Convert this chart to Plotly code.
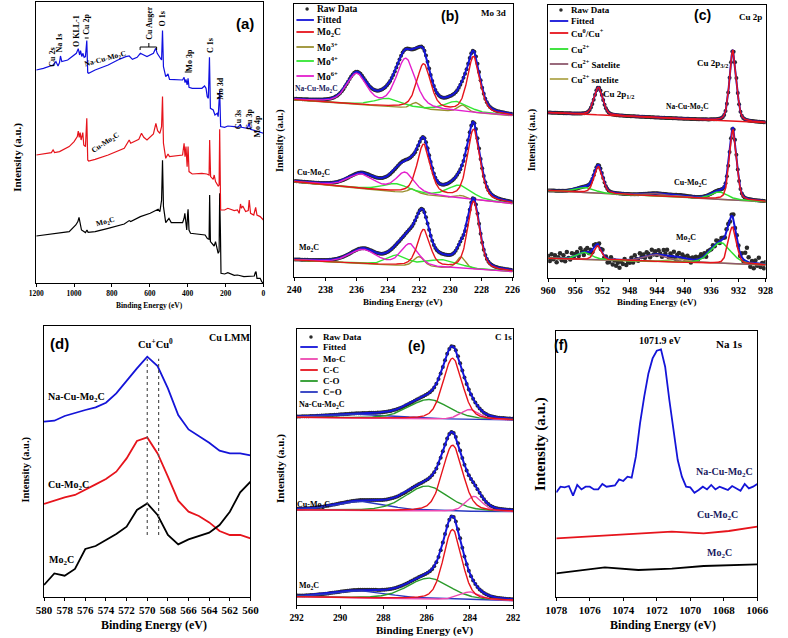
import numpy as np
import plotly.graph_objects as go

W, H = 788, 638
SERIF = "Liberation Serif"
SANS = "Liberation Sans"

# ---------------- (a) survey ----------------
a_mo2c_be = [1200, 1026, 991, 980, 974, 969, 961, 940, 932, 926, 889, 820, 735, 709, 701, 650, 598, 556, 547, 538, 533, 528, 516, 499, 487, 427, 419, 415, 410, 405, 400, 398, 393, 385, 308, 296, 287, 284, 280, 265, 260, 253, 244, 239, 234, 231, 227, 224, 205, 188, 154, 137, 103, 77, 48, 43, 39, 34, 17, 9, 0]
a_mo2c_i = [47.3, 51.7, 58.3, 61.7, 66, 60, 53.3, 50.7, 53.3, 51, 51.7, 55, 59.3, 62.7, 61.7, 66.7, 70, 74, 71.7, 83, 123, 76.7, 60.7, 65, 60.7, 60.7, 65, 70, 56.7, 53.3, 70, 74, 53.3, 50, 48.3, 44.7, 44, 88.3, 41.7, 38.3, 37.3, 41.7, 35, 30, 31.7, 90, 50, 10, 9.3, 10.7, 8, 8.3, 6.7, 6.7, 7.3, 10.7, 11.7, 5, 5, 1.7, 0]
a_cu_be = [1200, 1162, 1120, 1111, 1103, 1077, 1026, 1000, 983, 978, 973, 968, 963, 954, 949, 940, 933, 928, 923, 889, 820, 735, 718, 709, 701, 658, 644, 632, 615, 581, 568, 559, 547, 538, 533, 528, 516, 504, 496, 427, 419, 414, 409, 403, 398, 393, 376, 325, 299, 287, 284, 279, 265, 260, 253, 239, 234, 231, 226, 205, 188, 154, 137, 128, 121, 116, 109, 94, 80, 75, 68, 51, 41, 34, 17, 0]
a_cu_i = [128.3, 129.3, 130.7, 133.3, 130.7, 131.7, 136.7, 141.7, 146.7, 152.3, 146, 150.7, 143.3, 150.7, 138.3, 136.7, 165, 123.3, 122.3, 124, 128.3, 135, 140, 143.3, 140, 144, 150, 146, 143.3, 149.3, 160, 152.7, 150, 156.7, 186.7, 140, 125, 129.3, 126.7, 128.3, 140, 126.7, 136.7, 116.7, 136.7, 111.7, 109.3, 110, 109.3, 108.3, 143.3, 106.7, 104, 108.3, 101.7, 97.3, 98.3, 154, 73.3, 73.3, 75, 72.7, 73.3, 70, 79.3, 75, 77.3, 71.7, 72.7, 83.3, 70, 68.3, 76, 68.3, 66.7, 63.3]
a_na_be = [1200, 1162, 1111, 1096, 1085, 1077, 1072, 1065, 1034, 1000, 988, 978, 971, 966, 959, 954, 947, 940, 933, 928, 923, 889, 820, 769, 727, 709, 692, 667, 650, 632, 615, 581, 569, 561, 547, 538, 533, 528, 516, 504, 496, 427, 419, 414, 409, 403, 398, 393, 376, 325, 311, 303, 297, 291, 285, 280, 265, 256, 244, 239, 231, 226, 205, 188, 154, 137, 121, 116, 85, 75, 68, 41, 34, 0]
a_na_i = [213.3, 215, 218.3, 221.7, 217.3, 220.7, 227.3, 221.7, 223.3, 228.3, 230, 234.7, 228.3, 232.7, 226.7, 230, 226, 226.7, 242.7, 210.7, 210, 213.3, 218.3, 223.3, 226.7, 227.3, 224, 226, 230, 228.3, 226.7, 230, 235, 230, 225, 223.3, 252.7, 216.7, 206.7, 209.3, 204, 203.3, 206, 200.7, 204, 198.3, 205, 196, 195, 195, 197.3, 195, 186.7, 185, 226, 175, 173.3, 168.3, 170, 166.7, 192.7, 156.7, 156, 157.3, 156.7, 156, 158.3, 156, 155, 160, 154, 152.7, 151.7, 150]

# ---------------- (b) Mo 3d : peaks (centre eV, height, FWHM eV); rows = Na-Cu-Mo2C, Cu-Mo2C, Mo2C
b_base_left = [177, 95, 16.7]
b_base_right = [161, 73, 5]
b_mo2c = [[(228.5, 56, 0.95), (231.7, 45, 1.05)], [(228.5, 70, 0.95), (231.7, 50, 1.0)], [(228.5, 68, 0.9), (231.7, 37, 0.95)]]
b_mo3 = [[(232.2, 6, 0.7), (229.2, 7, 0.7)], [(232.4, 5, 0.7), (229.3, 3, 0.7)], [(232.0, 10, 0.8), (229.3, 12, 0.7)]]
b_mo4 = [[(234.0, 8, 2.0), (229.6, 10, 1.8)], [(233.5, 8, 2.0), (229.4, 13, 1.8)], [(233.4, 10, 1.5), (230.5, 8, 2.5)]]
b_mo6 = [[(232.85, 49, 1.45), (236.0, 30, 1.5)], [(232.9, 20, 1.4), (235.7, 14, 2.0)], [(232.6, 22, 1.3), (235.6, 14, 2.0)]]

# ---------------- (c) Cu 2p
c_base_left = [165.7, 87.7, 20]
c_base_right = [155.7, 76.7, 13.3]
c_cu0 = [[(932.8, 71, 1.2), (952.6, 27.6, 1.5)], [(932.8, 70, 1.25), (952.6, 26.5, 1.5)], [(932.9, 37, 1.4), (952.7, 14, 1.3)]]
c_cu2 = [[], [(934.8, 7.4, 2.8), (954.5, 5, 3.0)], [(934.6, 21, 3.5), (954.6, 7, 2.5)]]
c_sat1 = [[], [(944.0, 2.5, 4.0)], [(944.0, 7, 4.0)]]
c_sat2 = [[], [(940.5, 1.5, 3.0)], [(940.5, 3.5, 3.0)]]
c_mo2c_noise = [2, -3, 4, -1, 3, -4, 1, 5, -2, 3, -3, 6, 0, -2, 4, -1, 2,
                3, -2, 5, 1, -3, 2, 4, -1, 2, -2, 3, 1, -1, 2, 0, 3,
                -2, 1, -4, -3, 2, -5, -1, -6, -3, -8, -2, -4, 1, -5, -2, -3,
                2, -3, 4, 0, -2, 5, 1, 3, -1, 4, 2, -2, 5, 0, 3, -1,
                4, 1, -2, 5, 2, 6, -1, 3, 0, 5, -2, 2, 4, -1, 3, 1,
                -2, 3, 1, -3, 2, 0, 3, -1, 2, 4, 1, 3, -2, 2, 1, 0,
                2, -1, 3, 1, -2, 2, 1, -1, 3, 2, -2, 1, 4, -1, 2, 1,
                -3, 4, -2, 8, 14, 5, -4, 2, -5, 3, -2, 6, -3, 1, -4, 2]

# ---------------- (d) Cu LMM
d_be = [580, 579, 578, 577, 576, 575, 574, 573, 572, 571, 570, 569, 568, 567, 566, 565, 564, 563, 562, 561, 560]
d_na = [175, 176, 180.7, 184, 186.7, 189.3, 194, 203.3, 216, 228.3, 240, 230.7, 208.3, 181.7, 167.3, 160.7, 154, 146, 143.3, 143.3, 141.3]
d_cu = [92.7, 96, 99.3, 101.7, 106.7, 112.3, 117.7, 125, 138.3, 155.7, 159.3, 143.3, 120, 96, 85, 80.7, 74.3, 65.7, 61.7, 61.7, 58.3]
d_mo = [11.7, 23.3, 21, 27.7, 47.7, 50.7, 56.7, 62.7, 70, 86.7, 93.3, 81.7, 61.7, 52.3, 57.3, 60.7, 64, 71.7, 85, 104.3, 115]
d_marks = [570.0, 568.9]

# ---------------- (e) C 1s
e_base_left = [187.7, 95, 8.3]
e_base_right = [185, 93.3, 4.3]
e_moc = [[(284.0, 10, 1.0)], [(283.8, 15, 0.9)], [(284.0, 8, 1.1)]]
e_cc = [[(284.8, 61, 1.05)], [(284.8, 66, 1.1)], [(284.8, 70, 1.0)]]
e_co = [[(285.9, 19.5, 2.2)], [(286.0, 25, 2.3)], [(285.9, 21, 2.3)]]
e_ceo = [[(288.8, 4, 3.5)], [(289.0, 9, 2.8)], [(289.0, 7, 3.0)]]

# ---------------- (f) Na 1s
f_na_be = [1078 - 0.25 * k for k in range(49)]
f_na = [104.3, 110, 109.3, 110.7, 101, 111.7, 107.3, 110, 110, 107.3, 107.3, 112.7, 110, 110.7, 111.3, 117.3, 115.7, 120, 119, 140, 173.3, 200, 223.3, 238.3, 246, 247.3, 230, 196.7, 168.3, 136.7, 120, 110, 109.3, 104, 106.7, 110, 107.3, 111.7, 107.3, 110, 108.3, 106.7, 110.7, 108.3, 106, 112.7, 108.3, 110, 112.7]
f_cu_be = [1078, 1075.4, 1073.5, 1071.1, 1069.2, 1067.7, 1066]
f_cu = [58.3, 60.7, 62.3, 65, 63.3, 65.7, 70]
f_mo_be = [1078, 1075.1, 1073.1, 1071.1, 1069.2, 1066]
f_mo = [23.3, 29.3, 26.7, 28, 30.7, 32.3]

# ---------------- layout geometry ----------------
BOX = {'a': (26, 2, 260, 283.3), 'b': (291.7, 4, 516.7, 276.7), 'c': (553.3, 5, 777.3, 278.3),
       'd': (34, 326, 246.7, 596.7), 'e': (294.3, 329, 517.3, 605), 'f': (561.7, 331, 768.7, 596.7)}
XR = {'a': [1200, 0], 'b': [240, 226], 'c': [960, 928], 'd': [580, 560], 'e': [292, 282], 'f': [1078, 1066]}
YR = {'a': [0, 281.3], 'b': [0, 272.7], 'c': [0, 273.3], 'd': [0, 270.7], 'e': [0, 276], 'f': [0, 265.7]}
DT = {'a': 200, 'b': 2, 'c': 4, 'd': 2, 'e': 2, 'f': 2}
TF = {'a': 7.5, 'b': 10, 'c': 10, 'd': 11, 'e': 9.5, 'f': 11}
AX = {k: ('' if i == 0 else str(i + 1)) for i, k in enumerate('abcdef')}

fig = go.Figure()
layout = dict(width=W, height=H, margin=dict(l=0, r=0, t=0, b=0), paper_bgcolor='white',
              plot_bgcolor='white', showlegend=False)
for k in 'abcdef':
    n = AX[k]
    x0, y0, x1, y1 = BOX[k]
    layout['xaxis' + n] = dict(domain=[x0 / W, x1 / W], range=XR[k], anchor='y' + n, dtick=DT[k], tick0=0,
                               showline=True, mirror=True, linecolor='black', linewidth=1.2, ticks='outside',
                               ticklen=3, tickwidth=1, tickcolor='black', showgrid=False, zeroline=False,
                               tickfont=dict(family=SERIF, size=TF[k], color='black', weight='bold'))
    layout['yaxis' + n] = dict(domain=[1 - y1 / H, 1 - y0 / H], range=YR[k], anchor='x' + n, showline=True,
                               mirror=True, linecolor='black', linewidth=1.2, showticklabels=False, ticks='',
                               showgrid=False, zeroline=False)
fig.update_layout(**layout)

annotations = []
shapes = []


def P(x, y):
    return x / W, 1 - y / H


def text(x, y, s, size, font=SERIF, color='black', angle=0, xanchor='center', bold=True):
    px_, py_ = P(x, y)
    annotations.append(dict(x=px_, y=py_, xref='paper', yref='paper', text=s, showarrow=False,
                            textangle=angle, xanchor=xanchor, yanchor='middle',
                            font=dict(family=font, size=size, color=color, weight='bold' if bold else 'normal')))


def pline(x0, y0, x1, y1, color='black', width=1, dash=None):
    a0, b0 = P(x0, y0)
    a1, b1 = P(x1, y1)
    ln = dict(color=color, width=width)
    if dash:
        ln['dash'] = dash
    shapes.append(dict(type='line', xref='paper', yref='paper', x0=a0, y0=b0, x1=a1, y1=b1, line=ln))


def add(k, x, y, color, width=1.5, mode='lines', size=4):
    n = AX[k]
    if mode == 'lines':
        fig.add_trace(go.Scatter(x=x, y=y, mode='lines', line=dict(color=color, width=width),
                                 xaxis='x' + n, yaxis='y' + n, hoverinfo='skip'))
    else:
        fig.add_trace(go.Scatter(x=x, y=y, mode='markers', marker=dict(color=color, size=size, line=dict(width=0)),
                                 xaxis='x' + n, yaxis='y' + n, hoverinfo='skip'))


def pv(x, peaks, eta=0.3):
    out = np.zeros_like(x)
    for c, h, w in peaks:
        d = (x - c) / w
        out += h * ((1 - eta) * np.exp(-4 * np.log(2) * d * d) + eta / (1 + 4 * d * d))
    return out


def base(x, xr, bl, br):
    return bl + (br - bl) * (x - xr[0]) / (xr[1] - xr[0])


BLUE = '#1414d8'
RED = '#e6141c'
RAW = '#2a2a2a'

# ---- (a)
add('a', a_mo2c_be, a_mo2c_i, 'black', 1.2)
add('a', a_cu_be, a_cu_i, RED, 1.2)
add('a', a_na_be, a_na_i, '#1010e0', 1.2)
for (x, y, s) in [(43, 57, 'Cu 2s'), (50, 43, 'Na 1s'), (68, 31, 'O KLL-1'), (78, 24, 'Cu 2p'),
                  (142, 23, 'Cu Auger'), (157, 19, 'O 1s'), (183, 60, 'Mo 3p'), (205, 46, 'C 1s'),
                  (215, 88, 'Mo 3d'), (235, 120, 'Cu 3s'), (245, 119, 'Cu 3p'), (253, 126, 'Mo 4p')]:
    text(x, y, s, 8, angle=-90)
pline(133, 47, 150, 47)
pline(133, 47, 133, 50)
pline(150, 47, 150, 50)
pline(142, 47, 142, 43)
pline(179, 72, 186, 72)
pline(76, 38, 80, 38)
text(97, 59, 'Na-Cu-Mo<sub>2</sub>C', 7.5, angle=-15)
text(97, 143, 'Cu-Mo<sub>2</sub>C', 7.5, angle=-33)
text(97, 222, 'Mo<sub>2</sub>C', 7.5, angle=-15)
text(241, 23, '(a)', 15, font=SANS)
text(143, 305, 'Binding Energy (eV)', 7.5)
text(6, 157, 'Intensity (a.u.)', 11, angle=-90)

# ---- (b)
xb = np.linspace(226, 240, 701)
xb_raw = np.arange(226.05, 240, 0.1)
ETA_B = 0.45
for i in range(3):
    bl, br = b_base_left[i], b_base_right[i]
    allp = b_mo2c[i] + b_mo3[i] + b_mo4[i] + b_mo6[i]
    env = base(xb, [240, 226], bl, br) + pv(xb, allp, ETA_B)
    raw = base(xb_raw, [240, 226], bl, br) + pv(xb_raw, allp, ETA_B)
    add('b', xb_raw, raw, RAW, mode='markers', size=4)
    add('b', xb, env, BLUE, 2)
    for comp, col in [(b_mo3, '#9a9030'), (b_mo4, '#33e633'), (b_mo6, '#e31fcc'), (b_mo2c, RED)]:
        add('b', xb, base(xb, [240, 226], bl, br) + pv(xb, comp[i], ETA_B), col, 1.4)
text(315, 89, 'Na-Cu-Mo<sub>2</sub>C', 7.5, color='#1a1a60')
text(312, 173, 'Cu-Mo<sub>2</sub>C', 8)
text(307, 248, 'Mo<sub>2</sub>C', 8)
text(452, 16, '(b)', 14, font=SANS)
text(497, 13, 'Mo 3d', 9)
text(404, 302, 'Binding Energy (eV)', 9)
text(277, 140, 'Intensity (a.u.)', 10, angle=-90)

# ---- (c)
xc = np.linspace(928, 960, 801)
xc_raw = np.arange(928.1, 960, 0.2)
for i in range(3):
    bl, br = c_base_left[i], c_base_right[i]
    allp = c_cu0[i] + c_cu2[i] + c_sat1[i] + c_sat2[i]
    env = base(xc, [960, 928], bl, br) + pv(xc, allp)
    if i < 2:
        raw = base(xc_raw, [960, 928], bl, br) + pv(xc_raw, allp)
        add('c', xc_raw, raw, RAW, mode='markers', size=4)
    else:
        xr = np.array([960 - 0.25 * k for k in range(129)])
        raw = base(xr, [960, 928], bl, br) + pv(xr, allp) + np.array(c_mo2c_noise)
        add('c', xr, raw, RAW, mode='markers', size=4.5)
    add('c', xc, env, BLUE, 2)
    for comp, col in [(c_sat2, '#b0a850'), (c_sat1, '#8e5a6e'), (c_cu2, '#2ee02e'), (c_cu0, RED)]:
        if comp[i]:
            add('c', xc, base(xc, [960, 928], bl, br) + pv(xc, comp[i]), col, 1.5)
    if i == 0:
        add('c', xc, base(xc, [960, 928], bl, br), RED, 1.5)
text(712, 15, '(c)', 14, font=SANS)
text(762, 17, 'Cu 2p', 9)
text(723, 63, 'Cu 2p<sub>3/2</sub>', 9)
text(626, 95, 'Cu 2p<sub>1/2</sub>', 9)
text(697, 107, 'Na-Cu-Mo<sub>2</sub>C', 7.5)
text(700, 183, 'Cu-Mo<sub>2</sub>C', 8)
text(695, 238, 'Mo<sub>2</sub>C', 8)
text(665, 302, 'Binding Energy (eV)', 9)
text(537, 140, 'Intensity (a.u.)', 10, angle=-90)

# ---- (d)
add('d', d_be, d_na, BLUE, 1.8)
add('d', d_be, d_cu, RED, 1.8)
add('d', d_be, d_mo, 'black', 1.8)
for m in d_marks:
    fig.add_shape(type='line', xref='x4', yref='y4', x0=m, x1=m, y0=61.7, y1=238,
                  line=dict(color='#555555', width=1.2, dash='dot'))
text(50, 343, '(d)', 15, font=SANS)
text(225, 337, 'Cu LMM', 10)
text(149, 343, 'Cu<sup>+</sup>Cu<sup>0</sup>', 10.5)
text(67, 397, 'Na-Cu-Mo<sub>2</sub>C', 10)
text(59, 485, 'Cu-Mo<sub>2</sub>C', 10)
text(52, 560, 'Mo<sub>2</sub>C', 10)
text(147, 625, 'Binding Energy (eV)', 12)
text(15, 470, 'Intensity (a.u.)', 10.5, angle=-90)

# ---- (e)
xe = np.linspace(282, 292, 601)
xe_raw = np.arange(282.05, 292, 0.1)
for i in range(3):
    bl, br = e_base_left[i], e_base_right[i]
    allp = e_moc[i] + e_cc[i] + e_co[i] + e_ceo[i]
    env = base(xe, [292, 282], bl, br) + pv(xe, allp)
    raw = base(xe_raw, [292, 282], bl, br) + pv(xe_raw, allp)
    add('e', xe_raw, raw, RAW, mode='markers', size=4)
    add('e', xe, env, BLUE, 2)
    for comp, col in [(e_ceo, '#2a38c0'), (e_co, '#2a9a2a'), (e_moc, '#ec48b0'), (e_cc, RED)]:
        add('e', xe, base(xe, [292, 282], bl, br) + pv(xe, comp[i]), col, 1.4)
text(418, 346, '(e)', 14, font=SANS)
text(507, 337, 'C 1s', 9)
text(320, 405, 'Na-Cu-Mo<sub>2</sub>C', 8)
text(312, 505, 'Cu-Mo<sub>2</sub>C', 8)
text(307, 586, 'Mo<sub>2</sub>C', 8)
text(426, 630, 'Binding Energy (eV)', 11)
text(277, 468, 'Intensity (a.u.)', 11, angle=-90)

# ---- (f)
add('f', f_na_be, f_na, BLUE, 1.8)
add('f', f_cu_be, f_cu, RED, 1.8)
add('f', f_mo_be, f_mo, 'black', 1.8)
text(567, 345, '(f)', 14, font=SANS)
text(668, 340, '1071.9 eV', 10)
text(740, 344, 'Na 1s', 11)
text(735, 472, 'Na-Cu-Mo<sub>2</sub>C', 10, color='#1a1a60')
text(728, 515, 'Cu-Mo<sub>2</sub>C', 10, color='#1a1a60')
text(730, 553, 'Mo<sub>2</sub>C', 10, color='#1a1a60')
text(672, 625, 'Binding Energy (eV)', 12)
text(545, 444, 'Intensity (a.u.)', 15, angle=-90)


# ---- custom legends
def legend(items, x_l0, x_l1, x_t, ys, size=9):
    for (lab, col), y in zip(items, ys):
        if col is None:
            cx, cy = (x_l0 + x_l1) / 2 + 2, y
            a0, b0 = P(cx - 1.8, cy + 1.8)
            a1, b1 = P(cx + 1.8, cy - 1.8)
            shapes.append(dict(type='circle', xref='paper', yref='paper', x0=a0, y0=b0, x1=a1, y1=b1,
                               fillcolor=RAW, line=dict(width=0)))
        else:
            pline(x_l0, y, x_l1, y, col, 1.8)
        text(x_t, y, lab, size, xanchor='left')


legend([('Raw Data', None), ('Fitted', BLUE), ('Mo<sub>2</sub>C', RED), ('Mo<sup>3+</sup>', '#9a9030'),
        ('Mo<sup>4+</sup>', '#33e633'), ('Mo<sup>6+</sup>', '#e31fcc')],
       294, 312, 313, [9, 20, 32, 47, 61, 76], size=9.5)
legend([('Raw Data', None), ('Fitted', BLUE), ('Cu<sup>0</sup>/Cu<sup>+</sup>', RED), ('Cu<sup>2+</sup>', '#2ee02e'),
        ('Cu<sup>2+</sup> Satelite', '#8e5a6e'), ('Cu<sup>2+</sup> satelite', '#b0a850')],
       555, 574, 575, [10, 21, 33, 49, 64, 79])
legend([('Raw Data', None), ('Fitted', BLUE), ('Mo-C', '#ec48b0'), ('C-C', RED), ('C-O', '#2a9a2a'),
        ('C=O', '#2a38c0')],
       298, 316, 319, [337, 347, 359, 370, 381, 392])

fig.update_layout(annotations=annotations, shapes=list(fig.layout.shapes) + shapes)
fig.write_html("out.html", config={'responsive': False, 'displayModeBar': False},
               post_script="document.body.style.margin='0px';document.body.style.padding='0px';")
